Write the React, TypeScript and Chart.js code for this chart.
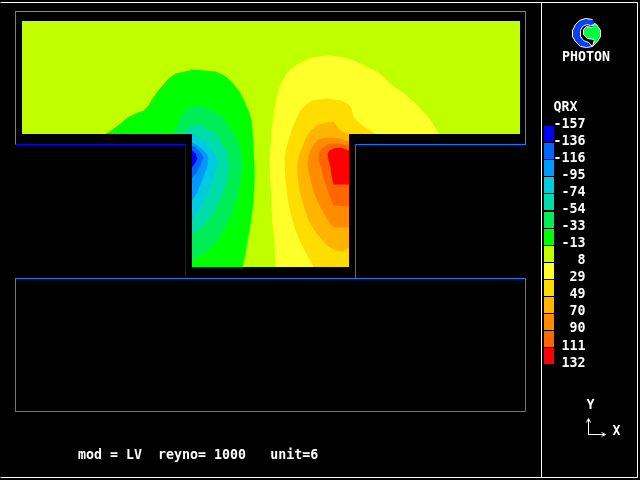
import React, { useEffect, useRef } from "react";
import { Chart, registerables } from "chart.js";

Chart.register(...registerables);

type P = number[];

// QRX colour bands, lowest first
const levelLabels = ["-157", "-136", "-116", "-95", "-74", "-54", "-33", "-13", "8", "29", "49", "70", "90", "111", "132"];
const bandColors = ["#0000ff", "#0066ff", "#0099ff", "#00ccdd", "#00dda8", "#00ee55", "#00ff00", "#bfff00", "#ffff2a", "#ffdd00", "#ffb400", "#ff8c00", "#ff6600", "#ff0000"];

// Flow domain, filled with the 8-level band
const domain: P[] = [[21.5, 20.5], [519.5, 20.5], [519.5, 133.5], [348.5, 133.5], [348.5, 266.5], [191.5, 266.5], [191.5, 133.5], [21.5, 133.5]];

// Negative lobe contours, outermost first
const negGreen: P[] = [[105, 133.5], [112, 129], [120, 123], [127, 117], [135, 113], [143, 110], [148, 105], [152, 98], [157, 91], [162, 85], [168, 78], [175, 73], [184, 71], [193, 69], [204, 70], [215, 71], [224, 75], [231, 81], [236, 87], [240, 93], [244, 101], [248, 110], [251, 120], [252, 130], [253, 150], [254, 165], [254, 180], [253, 200], [251, 217], [249, 230], [247, 240], [245, 253], [242, 266.5], [191.5, 266.5], [191.5, 133.5]];
const negTeal1: P[] = [[173, 133.5], [175, 128], [178, 122], [180, 116], [183, 111], [188, 107], [193, 105], [198, 105], [203, 106], [212, 110], [220, 115], [227, 123], [233, 132], [237, 141], [240, 150], [241, 163], [240, 177], [238, 187], [236, 198], [233, 207], [229, 219], [223, 230], [217, 239], [210, 247], [201, 254], [191.5, 259], [191.5, 133.5]];
const negTeal2: P[] = [[184, 133.5], [186, 129], [189, 126], [195, 125], [200, 125], [205, 127], [211, 130], [217, 136], [222, 143], [226, 151], [228, 160], [228, 170], [226, 180], [223, 190], [218, 202], [213, 211], [207, 220], [200, 227], [191.5, 233], [191.5, 133.5]];
const negCyan: P[] = [[191.5, 133.5], [197, 136], [203, 139], [208, 144], [212, 150], [216, 157], [217, 163], [215, 171], [212, 180], [208, 190], [203, 200], [198, 209], [191.5, 219]];
const negAzure: P[] = [[191.5, 142], [197, 145], [202, 149], [206, 153], [208, 158], [207, 165], [204, 174], [200, 184], [196, 193], [191.5, 200]];
const negBlue2: P[] = [[191.5, 145], [196, 147], [200, 152], [203, 157], [200, 164], [197, 171], [191.5, 178]];
const negBlue1: P[] = [[191.5, 150], [195, 153], [197, 158], [195, 162], [191.5, 167]];

// Positive lobe contours, outermost first
const posYellow: P[] = [[275, 266.5], [274, 245], [272, 225], [271, 205], [270, 185], [269, 163], [270, 145], [271, 130], [273, 115], [275, 102], [277, 93], [280, 84], [285, 75], [291, 68], [298, 63], [308, 58], [318, 56], [328, 55], [338, 56], [348, 58], [358, 62], [368, 67], [378, 72], [385, 78], [392, 85], [402, 92], [412, 100], [420, 108], [428, 117], [433, 124], [438, 133.5], [348.5, 133.5], [348.5, 266.5]];
const posGold: P[] = [[313, 266.5], [303, 248], [295, 230], [290, 213], [287, 197], [285, 180], [284, 163], [285, 150], [288, 140], [291, 129], [295, 120], [300, 110], [307, 103], [312, 100], [318, 99], [326, 98], [333, 99], [341, 100], [347, 103], [351, 108], [352, 113], [354, 118], [362, 125], [375, 133.5], [348.5, 133.5], [348.5, 266.5]];
const posAmber: P[] = [[348.5, 248], [342, 251], [335, 250], [328, 246], [322, 240], [314, 230], [308, 220], [303, 205], [299, 190], [297, 175], [297, 162], [299, 153], [302, 146], [305, 138], [310, 130], [318, 124], [326, 122], [333, 121], [337, 126], [341, 131], [348.5, 133.5]];
const posOrange: P[] = [[348.5, 227], [333, 227], [326, 218], [320, 207], [314, 194], [310, 180], [307, 165], [308, 155], [311, 148], [314, 143], [318, 139], [325, 137], [332, 137], [340, 138], [345, 140], [348.5, 141]];
const posDeep: P[] = [[348.5, 206], [333, 205], [327, 190], [322, 173], [318, 160], [318, 153], [321, 148], [328, 143], [339, 143], [348.5, 145]];
const posRed: P[] = [[348.5, 150], [340, 147], [333, 148], [329, 150], [327, 153], [328, 160], [330, 167], [331, 175], [333, 184], [348.5, 184]];

// Geometry outlines
const frameTop: P[] = [[15, 11], [525, 11]];
const frameTopLeft: P[] = [[15, 11], [15, 144]];
const frameTopRight: P[] = [[525, 11], [525, 144]];
const stepLeft: P[] = [[15, 144], [185, 144], [185, 278]];
const stepRight: P[] = [[525, 144], [355, 144], [355, 278]];
const midLine: P[] = [[15, 278], [525, 278]];
const lowerBox: P[] = [[15, 278], [15, 411], [525, 411], [525, 278]];
const panelLines: P[][] = [[[0, 2], [637, 2], [637, 477], [0, 477]], [[541, 2], [541, 477]]];

// Axis triad
const triad: P[][] = [
  [[588, 419], [588, 434], [604, 434]],
  [[586, 422], [588, 418], [590, 422]],
  [[601, 432], [605, 434], [601, 436]],
];

// Logo
const logoGreen: P[] = [[590, 21], [596, 24], [600, 30], [600, 36], [597, 41], [592, 46], [594, 39], [587, 38], [583, 34], [583, 29], [586, 26], [592, 27]];
const logoBlue: P[] = [[592, 19], [585, 18], [579, 20], [575, 24], [572, 30], [572, 36], [575, 41], [580, 46], [586, 47], [592, 46], [588, 42], [583, 40], [580, 36], [580, 30], [582, 26], [586, 24], [590, 25], [594, 24]];

// Text
const varName = "QRX";
const brand = "PHOTON";
const caption = "mod = LV  reyno= 1000   unit=6";

const band = (pts: P[], color: string, line = 0, lineColor = color) => ({
  type: "line" as const,
  data: pts.map(([x, y]) => ({ x, y })),
  showLine: true,
  fill: "shape" as const,
  backgroundColor: color,
  borderColor: lineColor,
  borderWidth: line,
  pointRadius: 0,
  tension: 0,
  clip: false as const,
});

const stroke = (pts: P[], color: string) => ({
  type: "line" as const,
  data: pts.map(([x, y]) => ({ x, y })),
  showLine: true,
  fill: false,
  borderColor: color,
  borderWidth: 1,
  pointRadius: 0,
  tension: 0,
  clip: false as const,
});

const FONT = 'bold 13.3px "DejaVu Sans Mono"';

const textPlugin = {
  id: "photonText",
  afterDatasetsDraw(chart: any) {
    const { ctx, scales } = chart;
    const px = (x: number) => scales.x.getPixelForValue(x);
    const py = (y: number) => scales.y.getPixelForValue(y);
    ctx.save();
    ctx.fillStyle = "#ffffff";
    ctx.font = FONT;
    ctx.textBaseline = "alphabetic";
    ctx.textAlign = "left";
    ctx.fillText(brand, px(561.5), py(60));
    ctx.fillText(varName, px(553), py(110.5));
    ctx.fillText(caption, px(77.5), py(458));
    ctx.fillText("Y", px(586), py(408));
    ctx.fillText("X", px(612), py(434));
    ctx.textAlign = "right";
    levelLabels.forEach((label, i) => {
      ctx.fillText(label, px(585), py(127 + i * 17.08));
    });
    ctx.restore();
  },
};

export default function App() {
  const ref = useRef<HTMLCanvasElement>(null);
  useEffect(() => {
    if (!ref.current) return;
    const swatches = bandColors.map((c, i) => {
      const top = 125.5 + Math.round(i * 17.1);
      return band([[543.5, top], [553.5, top], [553.5, top + 16], [543.5, top + 16]], c);
    });
    // painted first -> last; Chart.js paints the last dataset first
    const layers = [
      band(domain, bandColors[7]),
      band(negGreen, bandColors[6]),
      band(negTeal1, bandColors[5]),
      band(negTeal2, bandColors[4]),
      band(negCyan, bandColors[3]),
      band(negAzure, bandColors[2]),
      band(negBlue2, bandColors[1]),
      band(negBlue1, bandColors[0]),
      band(posYellow, bandColors[8]),
      band(posGold, bandColors[9]),
      band(posAmber, bandColors[10]),
      band(posOrange, bandColors[11]),
      band(posDeep, bandColors[12]),
      band(posRed, bandColors[13]),
      ...swatches,
      band(logoGreen, "#00ff40", 1, "#ffffff"),
      band(logoBlue, "#0040ff", 1, "#ffffff"),
      stroke(frameTop, "#00e060"),
      stroke(frameTopLeft, "#00b0c0"),
      stroke(frameTopRight, "#00b0c0"),
      stroke(stepLeft, "#0000ff"),
      stroke(stepRight, "#0080ff"),
      stroke(midLine, "#0080ff"),
      stroke(lowerBox, "#2f8f9f"),
      ...panelLines.map((l) => stroke(l, "#ffffff")),
      ...triad.map((l) => stroke(l, "#ffffff")),
    ];
    const chart = new Chart(ref.current, {
      type: "line",
      data: { datasets: layers.reverse() as any },
      options: {
        responsive: false,
        animation: false,
        events: [],
        parsing: false,
        normalized: true,
        layout: { padding: 0 },
        plugins: {
          legend: { display: false },
          title: { display: false },
          tooltip: { enabled: false },
          filler: { propagate: false },
        },
        scales: {
          x: { type: "linear", display: false, min: -0.5, max: 639.5 },
          y: { type: "linear", display: false, min: -0.5, max: 479.5, reverse: true },
        },
      },
      plugins: [textPlugin],
    } as any);
    return () => chart.destroy();
  }, []);
  return (
    <div style={{ position: "fixed", left: 0, top: 0, width: 640, height: 480, background: "#000" }}>
      <canvas ref={ref} width={640} height={480} style={{ display: "block", background: "#000" }} />
    </div>
  );
}
